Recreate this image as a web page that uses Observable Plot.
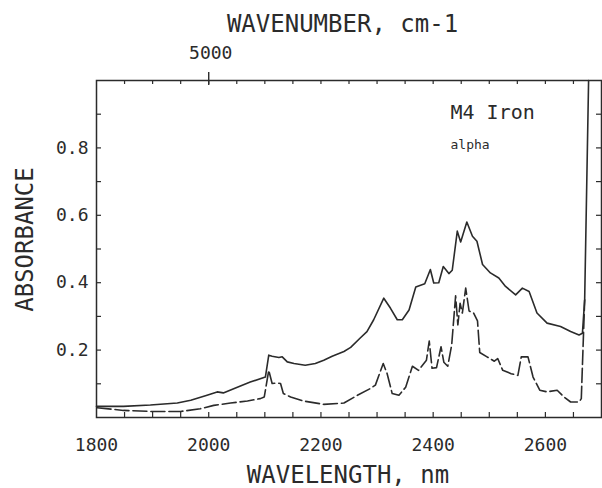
<!DOCTYPE html>
<html>
<head>
<meta charset="utf-8">
<script src="https://cdn.jsdelivr.net/npm/d3@7"></script>
<script src="https://cdn.jsdelivr.net/npm/@observablehq/plot@0.6"></script>
<style>
  html, body { margin: 0; padding: 0; background: #ffffff; }
  #chart svg { display: block; }
</style>
</head>
<body>
<div id="chart"></div>
<script>
// Solid spectrum (wavelength in nm, absorbance)
const solidNm = [1800,1848,1896,1944,1968,1997,2015,2026,2051,2074,2101,2107,2113,2125,2131,2140,2152,2172,2190,2205,2220,2241,2253,2270,2282,2294,2312,2324,2336,2345,2357,2369,2385,2395,2401,2410,2418,2428,2434,2443,2449,2460,2470,2478,2488,2502,2517,2529,2547,2559,2571,2585,2603,2627,2645,2660,2666,2670,2677];
const solidAbs = [0.033,0.033,0.037,0.043,0.051,0.066,0.076,0.073,0.090,0.105,0.120,0.185,0.182,0.178,0.180,0.165,0.160,0.155,0.160,0.170,0.182,0.196,0.208,0.236,0.255,0.290,0.354,0.324,0.290,0.290,0.319,0.387,0.397,0.439,0.399,0.400,0.448,0.427,0.437,0.553,0.521,0.580,0.538,0.523,0.454,0.429,0.414,0.389,0.364,0.384,0.374,0.310,0.280,0.270,0.255,0.245,0.250,0.349,1.0];

// Dashed spectrum
const dashedNm = [1801,1848,1896,1950,1985,2009,2039,2069,2092,2099,2107,2113,2122,2128,2133,2146,2169,2205,2241,2265,2288,2297,2311,2318,2327,2339,2351,2363,2374,2388,2393,2398,2406,2414,2419,2426,2433,2440,2444,2448,2452,2458,2464,2472,2479,2483,2496,2509,2515,2524,2539,2551,2557,2569,2578,2590,2603,2621,2633,2645,2660,2664,2670];
const dashedAbs = [0.029,0.021,0.018,0.018,0.026,0.036,0.043,0.049,0.056,0.061,0.140,0.101,0.102,0.101,0.071,0.061,0.049,0.039,0.043,0.066,0.086,0.096,0.160,0.130,0.071,0.066,0.090,0.152,0.140,0.170,0.227,0.146,0.148,0.210,0.164,0.152,0.215,0.361,0.275,0.339,0.310,0.384,0.316,0.310,0.287,0.193,0.180,0.167,0.175,0.140,0.130,0.125,0.180,0.180,0.120,0.081,0.076,0.081,0.061,0.046,0.046,0.056,0.349];

// Axes
const xTickLabels = [1800, 2000, 2200, 2400, 2600];
const xMinorTicks = [1850,1900,1950,2000,2050,2100,2150,2200,2250,2300,2350,2400,2450,2500,2550,2600,2650];
const yTickLabels = [0.2, 0.4, 0.6, 0.8];
const yMinorTicks = [0.1,0.2,0.3,0.4,0.5,0.6,0.7,0.8,0.9];
const topTickWavenumbers = [5000];

const xTitle = "WAVELENGTH, nm";
const yTitle = "ABSORBANCE";
const topTitle = "WAVENUMBER, cm-1";
const legendTitle = "M4 Iron";
const legendSub = "alpha";

const solid = solidNm.map((x, i) => ({x, y: solidAbs[i]}));
const dashed = dashedNm.map((x, i) => ({x, y: dashedAbs[i]}));

const ink = "#2b2b2b";
const font = "'DejaVu Sans Mono', 'Liberation Mono', monospace";
const W = 602, H = 488, mL = 96, mR = 1, mT = 80, mB = 71;
const pxPerY = (H - mT - mB) / 1.0;
const pxPerX = (W - mL - mR) / 900;

const chart = Plot.plot({
  width: W, height: H,
  marginLeft: mL, marginRight: mR, marginTop: mT, marginBottom: mB,
  x: {domain: [1800, 2700]},
  y: {domain: [0, 1.0]},
  style: {fontFamily: font, color: ink, background: "#ffffff", overflow: "visible"},
  marks: [
    Plot.frame({stroke: ink, strokeWidth: 1.5}),
    // inward minor ticks, bottom and top
    Plot.ruleX(xMinorTicks, {x: d => d, y1: 0, y2: 5 / pxPerY, stroke: ink, strokeWidth: 1.2}),
    Plot.ruleX(xMinorTicks, {x: d => d, y1: 1 - 4 / pxPerY, y2: 1, stroke: ink, strokeWidth: 1.2}),
    // major wavenumber tick on top axis
    Plot.ruleX(topTickWavenumbers, {x: d => 1e7 / d, y1: 1 - 5 / pxPerY, y2: 1 + 8 / pxPerY, stroke: ink, strokeWidth: 1.4}),
    // inward ticks left and right
    Plot.ruleY(yMinorTicks, {y: d => d, x1: 1800, x2: 1800 + 5 / pxPerX, stroke: ink, strokeWidth: 1.2}),
    Plot.ruleY(yMinorTicks, {y: d => d, x1: 2700 - 5 / pxPerX, x2: 2700, stroke: ink, strokeWidth: 1.2}),
    Plot.axisX(xTickLabels, {tickSize: 0, tickPadding: 21, fontSize: 18, tickFormat: d => String(d), label: null}),
    Plot.axisY(yTickLabels, {tickSize: 0, tickPadding: 8, fontSize: 18, tickFormat: d => d.toFixed(1), label: null}),
    Plot.line(solid, {x: "x", y: "y", stroke: ink, strokeWidth: 1.6}),
    Plot.line(dashed, {x: "x", y: "y", stroke: ink, strokeWidth: 1.6, strokeDasharray: "14,4"}),
    Plot.text([xTitle], {frameAnchor: "bottom", textAnchor: "middle", lineAnchor: "middle", dx: -1, dy: 58, fontSize: 24, fill: ink}),
    Plot.text([yTitle], {frameAnchor: "left", textAnchor: "middle", lineAnchor: "middle", dx: -71, dy: -9.5, rotate: -90, fontSize: 24, fill: ink}),
    Plot.text([topTitle], {frameAnchor: "top", textAnchor: "middle", lineAnchor: "middle", dx: -6.5, dy: -56.5, fontSize: 24, fill: ink}),
    Plot.text(topTickWavenumbers, {x: d => 1e7 / d, frameAnchor: "top", textAnchor: "middle", lineAnchor: "middle", dx: 2, dy: -27.3, fontSize: 18, text: d => String(d), fill: ink}),
    Plot.text([legendTitle], {frameAnchor: "top-left", textAnchor: "start", lineAnchor: "middle", dx: 354, dy: 31.7, fontSize: 20, fill: ink}),
    Plot.text([legendSub], {frameAnchor: "top-left", textAnchor: "start", lineAnchor: "middle", dx: 354, dy: 64, fontSize: 13, fill: ink})
  ]
});

document.getElementById("chart").appendChild(chart);
</script>
</body>
</html>
